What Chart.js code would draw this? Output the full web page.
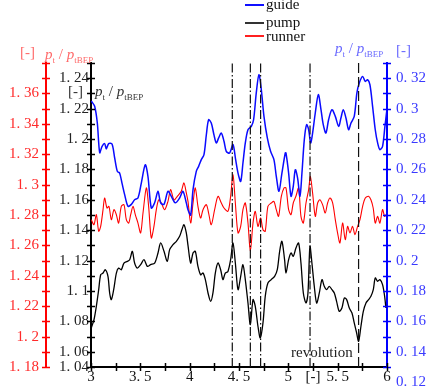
<!DOCTYPE html>
<html>
<head>
<meta charset="utf-8">
<script src="https://cdn.jsdelivr.net/npm/chart.js@4.4.1/dist/chart.umd.min.js"></script>
<style>
  body { margin: 0; background: #fff; }
  #wrap { position: relative; width: 430px; height: 390px; font-family: "Liberation Serif", serif; }
  .t { position: absolute; font-size: 15px; line-height: 15px; white-space: nowrap; }
  .t sub { font-size: 9px; line-height: 0; vertical-align: -4px; }
  .lg { position: absolute; height: 0; width: 19px; border-top: 2px solid; }
</style>
</head>
<body>
<div id="wrap">
  <canvas id="chart"></canvas>

  <div class="lg" style="left:245px;top:4px;border-color:#1010ff"></div>
  <div class="t" style="left:266px;top:-3px;color:#111">guide</div>
  <div class="lg" style="left:245px;top:22px;border-color:#333"></div>
  <div class="t" style="left:266px;top:15px;color:#111">pump</div>
  <div class="lg" style="left:245px;top:35px;border-color:#ff2020"></div>
  <div class="t" style="left:266px;top:29px;color:#111">runner</div>

  <div class="t" style="left:20px;top:45px;color:#ff6a6a">[-]</div>
  <div class="t" style="left:45px;top:47px;color:#ff6a6a"><i>p</i><sub>t</sub> / <i>p</i><sub>tBEP</sub></div>
  <div class="t" style="left:68px;top:84px;color:#333">[-]</div>
  <div class="t" style="left:95px;top:84px;color:#333"><i>p</i><sub>t</sub> / <i>p</i><sub>tBEP</sub></div>
  <div class="t" style="left:335px;top:41px;color:#6a6aff"><i>p</i><sub>t</sub> / <i>p</i><sub>tBEP</sub></div>
  <div class="t" style="left:396px;top:43px;color:#6a6aff">[-]</div>
  <div class="t" style="left:291px;top:345px;color:#222">revolution</div>
</div>
<script>
// guide vane (blue, right axis)
const guideRev = [3.003,3.037,3.064,3.088,3.111,3.138,3.155,3.179,3.213,3.240,3.267,3.290,3.314,3.341,3.375,3.409,3.442,3.476,3.510,3.550,3.577,3.611,3.645,3.679,3.706,3.740,3.780,3.814,3.854,3.898,3.932,3.966,
  3.983,4.010,4.034,4.067,4.091,4.118,4.145,4.169,4.192,4.219,4.246,4.270,4.294,4.321,4.348,4.371,4.405,4.439,4.466,4.490,4.517,4.540,4.564,4.591,4.625,4.648,4.675,4.702,4.726,4.753,4.787,4.820,4.854,4.878,4.905,4.935,4.969,
  4.976,5.003,5.027,5.050,5.071,5.094,5.118,5.138,5.162,5.185,5.206,5.226,5.246,5.273,5.304,5.331,5.354,5.381,5.408,5.442,5.476,5.510,5.533,5.557,5.584,5.611,5.635,5.668,5.695,5.719,5.753,5.780,5.803,5.827,5.854,5.881,5.905,5.928,5.955,5.979,5.999];
const guideVal = [0.305,0.3015,0.2905,0.271,0.275,0.277,0.2735,0.277,0.2767,0.2675,0.2587,0.2576,0.251,0.2434,0.2357,0.237,0.24,0.2412,0.251,0.263,0.2555,0.2346,0.238,0.2456,0.238,0.237,0.2456,0.2423,0.238,0.2412,0.2456,0.238,
  0.2335,0.23,0.2467,0.2587,0.262,0.2664,0.2697,0.2828,0.2927,0.2905,0.2828,0.2774,0.2807,0.2839,0.2785,0.2719,0.2708,0.2763,0.2664,0.2576,0.2521,0.2642,0.2774,0.2861,0.2883,0.2927,0.3103,0.3223,0.3125,0.2949,0.2807,0.2719,0.2664,0.2554,0.2456,0.2576,0.2708,
  0.2708,0.2576,0.2423,0.2489,0.2598,0.2543,0.2423,0.2576,0.2796,0.2894,0.2861,0.2774,0.2839,0.2971,0.3092,0.2993,0.2894,0.2839,0.2927,0.2993,0.2949,0.2883,0.2938,0.2993,0.2938,0.2861,0.2905,0.2949,0.3103,0.3168,0.3212,0.3179,0.3190,0.3157,0.3015,0.2861,0.2774,0.273,0.2752,0.2883,0.2993];

// pump (black, inner left axis)
const pumpRev = [3.003,3.030,3.054,3.078,3.098,3.122,3.145,3.172,3.189,3.206,3.230,3.257,3.280,3.307,3.334,3.368,3.392,3.419,3.442,3.469,3.503,3.537,3.571,3.604,3.645,3.679,3.706,3.740,3.773,3.797,3.831,3.865,3.898,3.922,3.942,3.966,
  3.983,4.010,4.034,4.057,4.084,4.111,4.135,4.159,4.186,4.213,4.236,4.260,4.287,4.314,4.337,4.361,4.388,4.415,4.439,4.463,4.490,4.517,4.540,4.564,4.591,4.615,4.642,4.665,4.692,4.716,4.743,4.766,4.793,4.827,4.861,4.888,4.912,4.935,4.962,
  4.976,5.003,5.027,5.050,5.077,5.104,5.128,5.152,5.179,5.199,5.219,5.239,5.263,5.287,5.314,5.341,5.364,5.388,5.415,5.442,5.466,5.489,5.516,5.543,5.567,5.591,5.618,5.645,5.668,5.692,5.712,5.736,5.760,5.787,5.813,5.837,5.861,5.881,5.905,5.928,5.955,5.976,5.989];
const pumpVal = [1.0757,1.0811,1.0899,1.1009,1.1107,1.1118,1.114,1.1096,1.0987,1.0943,1.1009,1.1118,1.1151,1.114,1.1184,1.1195,1.1206,1.1261,1.1184,1.1151,1.1173,1.1206,1.1162,1.1173,1.1184,1.125,1.1316,1.1261,1.1195,1.1272,1.1305,1.1327,1.136,1.1404,1.1436,1.1382,
  1.13,1.1184,1.125,1.1261,1.1162,1.1107,1.1118,1.1075,1.0987,1.0932,1.0987,1.1118,1.1184,1.114,1.1075,1.1118,1.1129,1.1206,1.1316,1.1184,1.1009,1.1096,1.1173,1.1075,1.0921,1.0779,1.0943,1.0899,1.0768,1.0691,1.079,1.0965,1.1053,1.1075,1.1096,1.114,1.1261,1.1327,1.1206,
  1.1118,1.1206,1.125,1.1228,1.1283,1.1316,1.1184,1.0987,1.0921,1.0987,1.1294,1.1184,1.1031,1.0921,1.0987,1.1075,1.1031,1.1009,1.1031,1.1009,1.0987,1.0932,1.0866,1.0888,1.0954,1.0943,1.0888,1.0855,1.079,1.0724,1.0669,1.0768,1.0866,1.0921,1.0943,1.0965,1.1009,1.1086,1.1064,1.1075,1.1042,1.0965,1.0888];

// runner (red, outer left axis)
const runnerRev = [3.003,3.030,3.054,3.078,3.098,3.122,3.138,3.162,3.182,3.206,3.233,3.257,3.280,3.307,3.334,3.358,3.382,3.402,3.426,3.449,3.476,3.503,3.527,3.561,3.584,3.611,3.638,3.662,3.686,3.713,3.746,3.780,3.807,3.841,3.875,3.915,3.942,3.966,
  3.983,4.010,4.034,4.057,4.084,4.111,4.135,4.169,4.192,4.219,4.253,4.287,4.321,4.348,4.388,4.415,4.439,4.463,4.490,4.517,4.540,4.564,4.591,4.615,4.642,4.665,4.692,4.719,4.743,4.766,4.793,4.827,4.854,4.878,4.901,4.929,4.956,
  4.976,5.003,5.027,5.050,5.077,5.104,5.128,5.152,5.179,5.206,5.223,5.246,5.273,5.297,5.320,5.347,5.374,5.398,5.422,5.449,5.476,5.499,5.523,5.550,5.577,5.601,5.624,5.651,5.675,5.702,5.726,5.753,5.780,5.813,5.837,5.860,5.881,5.905,5.928,5.955,5.976,5.989];
const runnerVal = [1.2769,1.2736,1.2802,1.2693,1.2725,1.2835,1.2912,1.2846,1.2857,1.2769,1.2835,1.2802,1.2747,1.2857,1.2868,1.2769,1.2747,1.2802,1.2857,1.2802,1.2747,1.2682,1.2813,1.2978,1.2857,1.2649,1.2725,1.2835,1.29,1.2879,1.2835,1.289,1.2967,1.29,1.2923,1.2956,1.3011,1.2945,
  1.289,1.2747,1.2879,1.2978,1.2857,1.278,1.2835,1.2868,1.2813,1.2736,1.2835,1.2923,1.2879,1.2846,1.2824,1.2923,1.3065,1.2879,1.2682,1.2725,1.2835,1.2879,1.2747,1.2561,1.2747,1.2824,1.2725,1.278,1.2703,1.2693,1.2857,1.2879,1.289,1.2835,1.2791,1.2923,1.2978,
  1.2978,1.2835,1.2802,1.2879,1.2923,1.2978,1.2791,1.2747,1.2879,1.2967,1.3054,1.2945,1.2791,1.2879,1.29,1.2868,1.2813,1.2879,1.2912,1.2879,1.2769,1.2682,1.2616,1.2747,1.2638,1.2725,1.2682,1.2725,1.2671,1.2725,1.2769,1.2857,1.2912,1.2923,1.29,1.2846,1.2747,1.2791,1.2747,1.2835,1.2791,1.2802];

// vertical markers (revolution), last one is dashed only
const markerRev = [4.432, 4.615, 4.719, 5.22, 5.712];

// axis ranges and tick labels
const revMin = 3, revMax = 6;
const revTickVals = [3, 3.5, 4, 4.5, 5, 5.25, 5.5, 6];
const revTickLabels = ['3', '3. 5', '4', '4. 5', '5', '[-]', '5. 5', '6'];
const pumpMin = 1.05, pumpMax = 1.25;
const pumpTickVals = [1.05, 1.06, 1.08, 1.10, 1.12, 1.14, 1.16, 1.18, 1.20, 1.22, 1.24];
const pumpTickLabels = ['1. 04', '1. 06', '1. 08', '1. 1', '1. 12', '1. 14', '1. 16', '1. 18', '1. 2', '1. 22', '1. 24'];
const runnerMin = 1.18, runnerMax = 1.38;
const runnerTickVals = [1.18, 1.20, 1.22, 1.24, 1.26, 1.28, 1.30, 1.32, 1.34, 1.36];
const runnerTickLabels = ['1. 18', '1. 2', '1. 22', '1. 24', '1. 26', '1. 28', '1. 3', '1. 32', '1. 34', '1. 36'];
const guideMin = 0.13, guideMax = 0.33;
const guideTickVals = [0.12, 0.14, 0.16, 0.18, 0.20, 0.22, 0.24, 0.26, 0.28, 0.30, 0.32];
const guideTickLabels = ['0. 12', '0. 14', '0. 16', '0. 18', '0. 2', '0. 22', '0. 24', '0. 26', '0. 28', '0. 3', '0. 32'];

const pts = (xs, ys) => xs.map((x, i) => ({ x: x, y: ys[i] }));

// minor ticks every step, plus the labelled ones
const tickList = (a, b, step, extra) => {
  const out = [];
  const n = Math.round((b - a) / step);
  for (let i = 0; i <= n; i++) out.push(+(a + i * step).toFixed(4));
  extra.forEach(v => { if (!out.some(o => Math.abs(o - v) < 1e-6)) out.push(v); });
  return out.sort((p, q) => p - q).map(v => ({ value: v }));
};
const labelOf = (vals, labels) => v => {
  const i = vals.findIndex(t => Math.abs(t - v) < 1e-6);
  return i >= 0 ? labels[i] : '';
};

// ticks crossing the axis line, like the original plot
const crossTicks = {
  id: 'crossTicks',
  afterDraw(chart) {
    const ctx = chart.ctx;
    ['yRunner', 'yPump', 'yGuide', 'x'].forEach(id => {
      const s = chart.scales[id];
      ctx.save();
      ctx.strokeStyle = s.options.border.color;
      ctx.lineWidth = 1.5;
      s.ticks.forEach(t => {
        if (t.value < s.min - 1e-6 || t.value > s.max + 1e-6) return;
        const p = Math.round(s.getPixelForValue(t.value)) + 0.5;
        ctx.beginPath();
        if (id === 'x') {
          ctx.moveTo(p, s.top - 4); ctx.lineTo(p, s.top + 4);
        } else {
          const a = s.position === 'left' ? s.right : s.left;
          ctx.moveTo(a - 4, p); ctx.lineTo(a + 4, p);
        }
        ctx.stroke();
      });
      ctx.restore();
    });
  }
};

Chart.defaults.font.family = '"Liberation Serif", serif';
Chart.defaults.font.size = 15;

const markerSets = markerRev.map((r, i) => ({
  data: [{ x: r, y: pumpMin }, { x: r, y: pumpMax }],
  yAxisID: 'yPump',
  borderColor: '#111',
  borderWidth: 1.2,
  borderDash: i === markerRev.length - 1 ? [10, 4] : [9, 2.5, 1.5, 2.5],
  pointRadius: 0,
  tension: 0
}));

new Chart(document.getElementById('chart'), {
  type: 'line',
  data: {
    datasets: [
      ...markerSets,
      { label: 'pump', data: pts(pumpRev, pumpVal), yAxisID: 'yPump', borderColor: '#000', borderWidth: 1.3, pointRadius: 0, tension: 0.3 },
      { label: 'guide', data: pts(guideRev, guideVal), yAxisID: 'yGuide', borderColor: '#0a0aff', borderWidth: 1.5, pointRadius: 0, tension: 0.3 },
      { label: 'runner', data: pts(runnerRev, runnerVal), yAxisID: 'yRunner', borderColor: '#ff0000', borderWidth: 1.1, pointRadius: 0, tension: 0.3 }
    ]
  },
  options: {
    responsive: true,
    maintainAspectRatio: false,
    animation: false,
    layout: { padding: { top: 63 } },
    plugins: { legend: { display: false }, tooltip: { enabled: false } },
    scales: {
      x: {
        type: 'linear', min: revMin, max: revMax,
        border: { color: '#000', width: 2 },
        grid: { drawOnChartArea: false, drawTicks: false },
        ticks: { color: '#111', padding: 1, autoSkip: false, maxRotation: 0, callback: labelOf(revTickVals, revTickLabels) },
        afterBuildTicks: s => { s.ticks = tickList(revMin, revMax, 0.25, revTickVals); },
        afterFit: s => { s.height = 23; }
      },
      yPump: {
        position: 'left', weight: 0, min: pumpMin, max: pumpMax,
        border: { color: '#000', width: 2 },
        grid: { drawOnChartArea: false, drawTicks: false },
        ticks: { color: '#222', padding: 2, autoSkip: false, callback: labelOf(pumpTickVals, pumpTickLabels) },
        afterBuildTicks: s => { s.ticks = tickList(pumpMin, pumpMax, 0.01, pumpTickVals); },
        afterFit: s => { s.width = 45; }
      },
      yRunner: {
        position: 'left', weight: 1, min: runnerMin, max: runnerMax,
        border: { color: '#ff0000', width: 2 },
        grid: { drawOnChartArea: false, drawTicks: false },
        ticks: { color: '#ff2a2a', padding: 7, autoSkip: false, callback: labelOf(runnerTickVals, runnerTickLabels) },
        afterBuildTicks: s => { s.ticks = tickList(runnerMin, runnerMax, 0.01, runnerTickVals); },
        afterFit: s => { s.width = 46; }
      },
      yGuide: {
        position: 'right', min: guideMin, max: guideMax,
        border: { color: '#0000ff', width: 2 },
        grid: { drawOnChartArea: false, drawTicks: false },
        ticks: { color: '#3a3aff', padding: 9, autoSkip: false, callback: labelOf(guideTickVals, guideTickLabels) },
        afterBuildTicks: s => { s.ticks = tickList(guideMin, guideMax, 0.01, guideTickVals); },
        afterFit: s => { s.width = 43; }
      }
    }
  },
  plugins: [crossTicks]
});
</script>
</body>
</html>
